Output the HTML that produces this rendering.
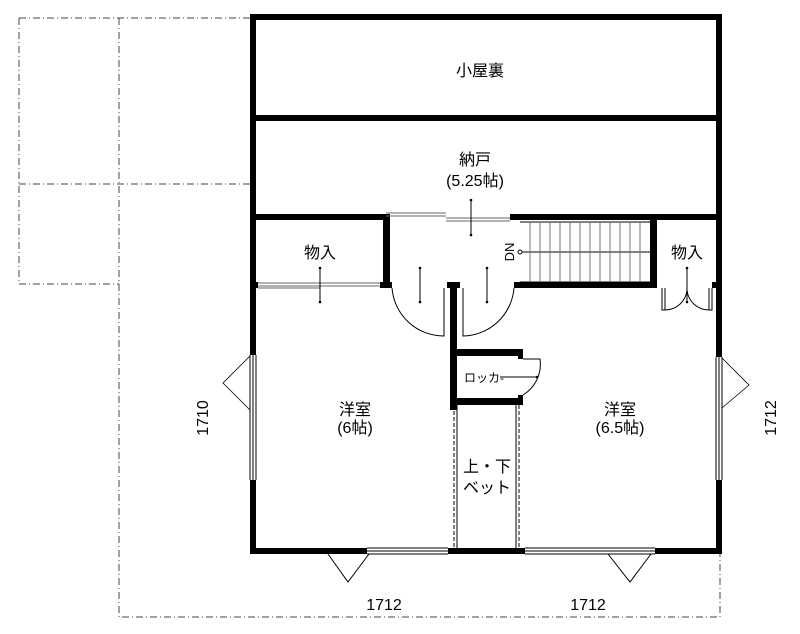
<!DOCTYPE html>
<html><head><meta charset="utf-8"><style>
html,body{margin:0;padding:0;background:#fff;}
svg{display:block;}
text{font-family:"Liberation Sans","Noto Sans CJK JP",sans-serif;fill:#000;}
</style></head><body>
<svg width="800" height="634" viewBox="0 0 800 634" xmlns="http://www.w3.org/2000/svg">
<rect width="800" height="634" fill="#fff"/>
<g stroke="#444" stroke-width="1" fill="none" stroke-dasharray="7,3,1,3">
<path d="M19 18H250M19 18V284H119M119 18V617H720V554M19 184H250"/>
</g>
<g fill="#000">
<rect x="250" y="14" width="472" height="6"/>
<rect x="250" y="115" width="472" height="6"/>
<rect x="250" y="214" width="136" height="6"/>
<rect x="386" y="214" width="2" height="6"/>
<rect x="510" y="214" width="212" height="6"/>
<rect x="250" y="14" width="6" height="341"/>
<rect x="250" y="480" width="6" height="74"/>
<rect x="716" y="14" width="6" height="343"/>
<rect x="716" y="480" width="6" height="74"/>
<rect x="250" y="548" width="117" height="6"/>
<rect x="448" y="548" width="77" height="6"/>
<rect x="655" y="548" width="67" height="6"/>
<rect x="383" y="214" width="7" height="70"/>
<rect x="650" y="214" width="7" height="70"/>
<rect x="250" y="282" width="8" height="6"/>
<rect x="380" y="282" width="12" height="6"/>
<rect x="447" y="282" width="13" height="6"/>
<rect x="514" y="282" width="143" height="6"/>
<rect x="712" y="282" width="10" height="6"/>
<rect x="450" y="284" width="7" height="126"/>
<rect x="450" y="349" width="73" height="7"/>
<rect x="450" y="398" width="73" height="7"/>
<rect x="518" y="349" width="5" height="10"/>
<rect x="518" y="395" width="5" height="10"/>
</g>
<g stroke="#000" stroke-width="1" fill="none">
<path d="M386 213H446M386 216H446M446 218H510M446 221H510" stroke="#666"/>
<line x1="471" y1="200" x2="471" y2="235"/>
<path d="M258 283H380M258 286H380M258 288H320" stroke="#666"/>
<line x1="320" y1="268" x2="320" y2="302"/>
<path d="M392 288A52 52 0 0 0 444 336V288"/>
<path d="M463 288V336A52 52 0 0 0 514 288"/>
<line x1="420" y1="268" x2="420" y2="302"/>
<line x1="487" y1="268" x2="487" y2="302"/>
<path d="M520 222H650M520 282H650M520 252H650" />
<g stroke="#777"><path d="M530 222V282M540 222V282M550 222V282M560 222V282M570 222V282M580 222V282M590 222V282M600 222V282M610 222V282M620 222V282M630 222V282M640 222V282"/></g>
<circle cx="520" cy="252" r="2" fill="#fff"/>
<path d="M662 288V310H665V288M712 288V310H709V288M665 310A22 22 0 0 0 687 290M709 310A22 22 0 0 1 687 290"/>
<line x1="687" y1="268" x2="687" y2="302"/>
<path d="M523 359H540A36 36 0 0 1 523 395" />
<line x1="500" y1="377" x2="537" y2="377"/>
<path d="M454 405V548M519 405V548" stroke-dasharray="4,2"/>
<path d="M457 405V548M516 405V548"/>
<path d="M250 355V480M253 355V480M256 355V480M716 357V480M719 357V480M722 357V480"/>
<path d="M250 356L223 383L250 410" stroke-width="0.8"/>
<path d="M722 358L749 385L722 408" stroke-width="0.8"/>
<path d="M367 548H448M367 551H448M367 554H448M525 548H655M525 551H655M525 554H655"/>
<path d="M328 554L348 582L369 554"/>
<path d="M651 554L630 582L608 554"/>
</g>
<g fill="#000">
<circle cx="320" cy="268" r="1.3"/><circle cx="320" cy="302" r="1.3"/>
<circle cx="420" cy="268" r="1.3"/><circle cx="420" cy="302" r="1.3"/>
<circle cx="487" cy="268" r="1.3"/><circle cx="487" cy="302" r="1.3"/>
<circle cx="687" cy="268" r="1.3"/><circle cx="687" cy="302" r="1.3"/>
<circle cx="471" cy="200" r="1.3"/><circle cx="471" cy="235" r="1.3"/>
<circle cx="537" cy="377" r="1.3"/>
</g>
<g font-size="16" text-anchor="middle">
<text x="480" y="76">小屋裏</text>
<text x="475" y="165">納戸</text>
<text x="475" y="186">(5.25帖)</text>
<text x="320" y="258">物入</text>
<text x="687" y="258">物入</text>
<text x="355" y="415">洋室</text>
<text x="355" y="433">(6帖)</text>
<text x="620" y="415">洋室</text>
<text x="620" y="433">(6.5帖)</text>
<text x="487" y="472">上・下</text>
<text x="487" y="493">ベット</text>
<text x="384" y="610">1712</text>
<text x="588" y="610">1712</text>
<text transform="translate(208,418) rotate(-90)">1710</text>
<text transform="translate(776,418) rotate(-90)">1712</text>
<text transform="translate(514,252) rotate(-90)" font-size="13">DN</text>
<text x="484" y="382" font-size="12">ロッカ-</text>
</g>
</svg>
</body></html>
